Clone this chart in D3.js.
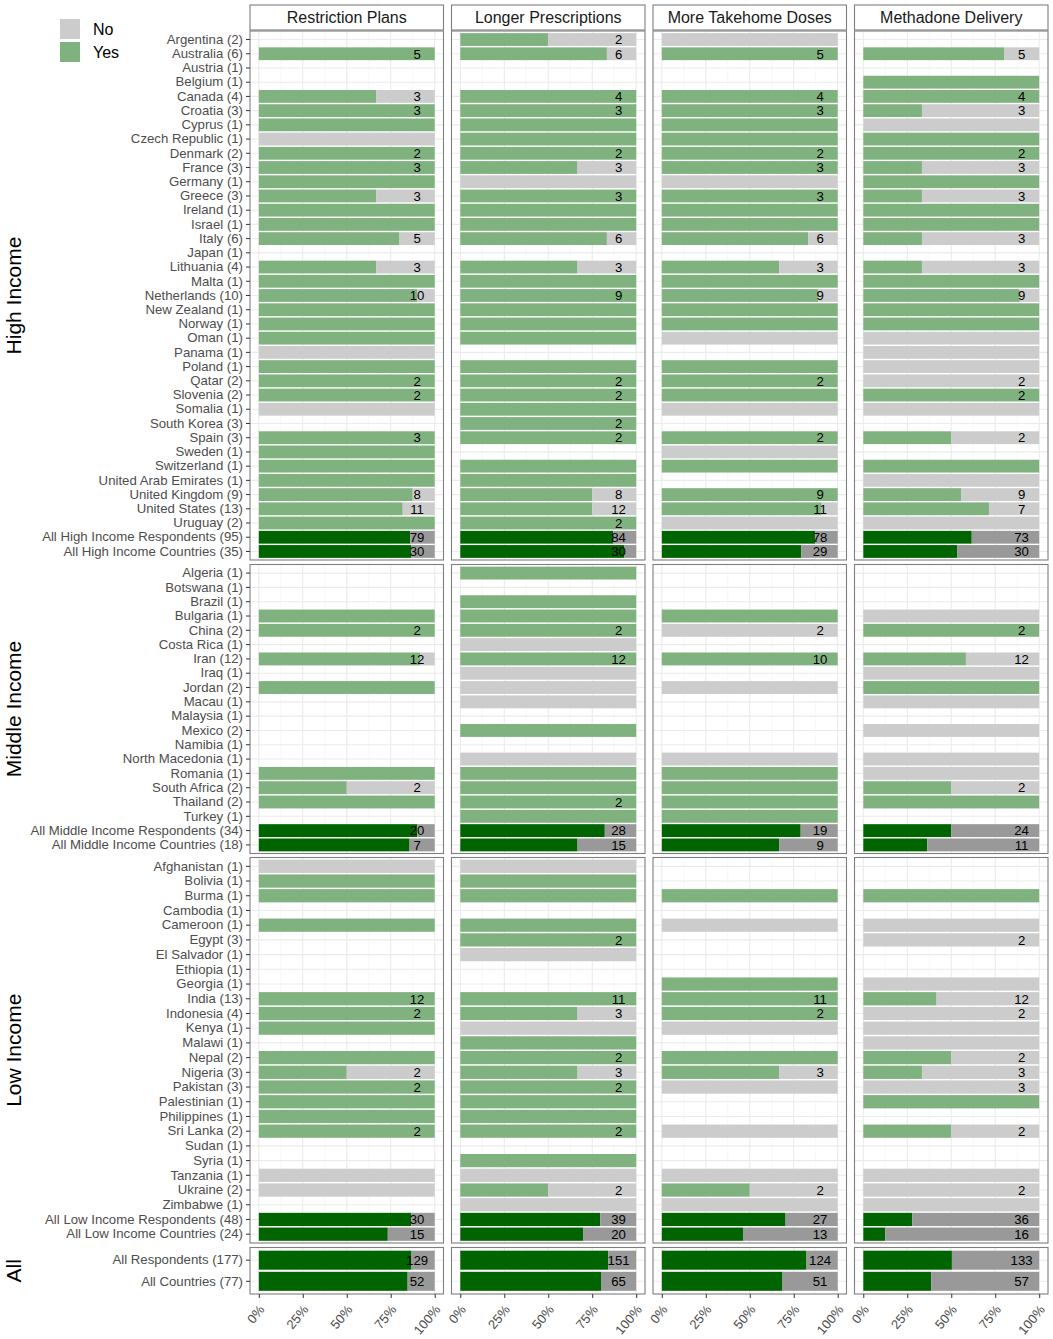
<!DOCTYPE html>
<html>
<head>
<meta charset="utf-8">
<title>Methadone service changes by country income group</title>
<style>
body { margin: 0; background: #fff; }
svg { display: block; font-family: "Liberation Sans", Arial, sans-serif; }
</style>
</head>
<body>
<div id="chart"></div>
<script src="https://d3js.org/d3.v7.min.js"></script>
<script>
// facet columns and rows
const questions = ["Restriction Plans", "Longer Prescriptions", "More Takehome Doses", "Methadone Delivery"];
const groupNames = ["High Income", "Middle Income", "Low Income", "All"];

// each value is [yes, answered]; null means nobody answered
const highLabels = ["Argentina (2)", "Australia (6)", "Austria (1)", "Belgium (1)", "Canada (4)", "Croatia (3)",
  "Cyprus (1)", "Czech Republic (1)", "Denmark (2)", "France (3)", "Germany (1)", "Greece (3)", "Ireland (1)",
  "Israel (1)", "Italy (6)", "Japan (1)", "Lithuania (4)", "Malta (1)", "Netherlands (10)", "New Zealand (1)",
  "Norway (1)", "Oman (1)", "Panama (1)", "Poland (1)", "Qatar (2)", "Slovenia (2)", "Somalia (1)",
  "South Korea (3)", "Spain (3)", "Sweden (1)", "Switzerland (1)", "United Arab Emirates (1)",
  "United Kingdom (9)", "United States (13)", "Uruguay (2)", "All High Income Respondents (95)",
  "All High Income Countries (35)"];
const highRP = [null, [5,5], null, null, [2,3], [3,3], [1,1], [0,1], [2,2], [3,3], [1,1], [2,3], [1,1], [1,1],
  [4,5], null, [2,3], [1,1], [9,10], [1,1], [1,1], [1,1], [0,1], [1,1], [2,2], [2,2], [0,1], null, [3,3],
  [1,1], [1,1], [1,1], [7,8], [9,11], [1,1], [68,79], [26,30]];
const highLP = [[1,2], [5,6], null, null, [4,4], [3,3], [1,1], [1,1], [2,2], [2,3], [0,1], [3,3], [1,1], [1,1],
  [5,6], null, [2,3], [1,1], [9,9], [1,1], [1,1], [1,1], null, [1,1], [2,2], [2,2], [1,1], [2,2], [2,2],
  null, [1,1], [1,1], [6,8], [9,12], [2,2], [73,84], [28,30]];
const highTD = [[0,1], [5,5], null, null, [4,4], [3,3], [1,1], [1,1], [2,2], [3,3], [0,1], [3,3], [1,1], [1,1],
  [5,6], null, [2,3], [1,1], [8,9], [1,1], [1,1], [0,1], null, [1,1], [2,2], [1,1], [0,1], null, [2,2],
  [0,1], [1,1], null, [9,9], [10,11], [0,1], [68,78], [23,29]];
const highMD = [null, [4,5], null, [1,1], [4,4], [1,3], [0,1], [1,1], [2,2], [1,3], [1,1], [1,3], [1,1], [1,1],
  [1,3], null, [1,3], [1,1], [8,9], [1,1], [1,1], [0,1], [0,1], [0,1], [0,2], [2,2], [0,1], null, [1,2],
  null, [1,1], [0,1], [5,9], [5,7], [0,1], [45,73], [16,30]];

const midLabels = ["Algeria (1)", "Botswana (1)", "Brazil (1)", "Bulgaria (1)", "China (2)", "Costa Rica (1)",
  "Iran (12)", "Iraq (1)", "Jordan (2)", "Macau (1)", "Malaysia (1)", "Mexico (2)", "Namibia (1)",
  "North Macedonia (1)", "Romania (1)", "South Africa (2)", "Thailand (2)", "Turkey (1)",
  "All Middle Income Respondents (34)", "All Middle Income Countries (18)"];
const midRP = [null, null, null, [1,1], [2,2], null, [11,12], null, [1,1], null, null, null, null, null,
  [1,1], [1,2], [1,1], null, [18,20], [6,7]];
const midLP = [[1,1], null, [1,1], [1,1], [2,2], [0,1], [12,12], [0,1], [0,1], [0,1], null, [1,1], null, [0,1],
  [1,1], [1,1], [2,2], [1,1], [23,28], [10,15]];
const midTD = [null, null, null, [1,1], [0,2], null, [10,10], null, [0,1], null, null, null, null, [0,1],
  [1,1], [1,1], [1,1], [1,1], [15,19], [6,9]];
const midMD = [null, null, null, [0,1], [2,2], null, [7,12], [0,1], [1,1], [0,1], null, [0,1], null, [0,1],
  [0,1], [1,2], [1,1], null, [12,24], [4,11]];

const lowLabels = ["Afghanistan (1)", "Bolivia (1)", "Burma (1)", "Cambodia (1)", "Cameroon (1)", "Egypt (3)",
  "El Salvador (1)", "Ethiopia (1)", "Georgia (1)", "India (13)", "Indonesia (4)", "Kenya (1)", "Malawi (1)",
  "Nepal (2)", "Nigeria (3)", "Pakistan (3)", "Palestinian (1)", "Philippines (1)", "Sri Lanka (2)",
  "Sudan (1)", "Syria (1)", "Tanzania (1)", "Ukraine (2)", "Zimbabwe (1)",
  "All Low Income Respondents (48)", "All Low Income Countries (24)"];
const lowRP = [[0,1], [1,1], [1,1], null, [1,1], null, null, null, null, [12,12], [2,2], [1,1], null, [1,1],
  [1,2], [2,2], [1,1], [1,1], [2,2], null, null, [0,1], [0,1], null, [26,30], [11,15]];
const lowLP = [[0,1], [1,1], [1,1], null, [1,1], [2,2], [0,1], null, null, [11,11], [2,3], [0,1], [1,1], [2,2],
  [2,3], [2,2], [1,1], [1,1], [2,2], null, [1,1], [0,1], [1,2], [0,1], [31,39], [14,20]];
const lowTD = [null, null, [1,1], null, [0,1], null, null, null, [1,1], [11,11], [2,2], [0,1], null, [1,1],
  [2,3], [0,1], null, null, [0,1], null, null, [0,1], [1,2], [0,1], [19,27], [6,13]];
const lowMD = [null, null, [1,1], null, [0,1], [0,2], null, null, [0,1], [5,12], [0,2], [0,1], [0,1], [1,2],
  [1,3], [0,3], [1,1], null, [1,2], null, null, [0,1], [0,2], [0,1], [10,36], [2,16]];

const allLabels = ["All Respondents (177)", "All Countries (77)"];
const allRP = [[112,129], [44,52]];
const allLP = [[127,151], [52,65]];
const allTD = [[102,124], [35,51]];
const allMD = [[67,133], [22,57]];

const xTicks = [0, 0.25, 0.5, 0.75, 1];
const legendKeys = ["No", "Yes"];

const groups = [
  {labels: highLabels, cols: [highRP, highLP, highTD, highMD]},
  {labels: midLabels, cols: [midRP, midLP, midTD, midMD]},
  {labels: lowLabels, cols: [lowRP, lowLP, lowTD, lowMD]},
  {labels: allLabels, cols: [allRP, allLP, allTD, allMD]}
];

// colours
const yesLight = "#7fb27f", noLight = "#cccccc";
const yesDark = "#006400", noDark = "#999999";
const border = "#7f7f7f";

// layout
const width = 1053, height = 1339;
const colX = [250, 451.5, 653, 854.5], colW = 193.5;
const rowBox = [[31, 560], [564.5, 853.5], [857.5, 1243], [1247.5, 1294]];
const stripTop = 5, stripH = 25;

const svg = d3.select("#chart").append("svg")
  .attr("width", width)
  .attr("height", height);

const xs = colX.map(x0 => d3.scaleLinear().domain([-0.05, 1.05]).range([x0, x0 + colW]));
const minor = d3.range(0.125, 1, 0.25);

groups.forEach((grp, gi) => {
  const y = d3.scaleBand()
    .domain(grp.labels)
    .range(rowBox[gi])
    .paddingInner(0.1)
    .paddingOuter(0.15);
  const bw = y.bandwidth();

  grp.cols.forEach((vals, ci) => {
    const x = xs[ci];
    const g = svg.append("g");

    // grid
    g.selectAll(".minor").data(minor).enter().append("line")
      .attr("x1", d => x(d)).attr("x2", d => x(d))
      .attr("y1", rowBox[gi][0]).attr("y2", rowBox[gi][1])
      .attr("stroke", "#f4f4f4").attr("stroke-width", 0.6);
    g.selectAll(".major").data(xTicks).enter().append("line")
      .attr("x1", d => x(d)).attr("x2", d => x(d))
      .attr("y1", rowBox[gi][0]).attr("y2", rowBox[gi][1])
      .attr("stroke", "#ebebeb").attr("stroke-width", 1.1);
    g.selectAll(".hgrid").data(grp.labels).enter().append("line")
      .attr("x1", colX[ci]).attr("x2", colX[ci] + colW)
      .attr("y1", d => y(d) + bw / 2).attr("y2", d => y(d) + bw / 2)
      .attr("stroke", "#ebebeb").attr("stroke-width", 1.1);

    const rows = grp.labels.map((lab, i) => ({lab, v: vals[i], summary: lab.startsWith("All")}))
      .filter(d => d.v !== null);

    // yes part
    g.selectAll(".yes").data(rows).enter().append("rect")
      .attr("x", x(0))
      .attr("y", d => y(d.lab))
      .attr("width", d => x(d.v[0] / d.v[1]) - x(0))
      .attr("height", bw)
      .attr("fill", d => d.summary ? yesDark : yesLight);
    // no part
    g.selectAll(".no").data(rows).enter().append("rect")
      .attr("x", d => x(d.v[0] / d.v[1]))
      .attr("y", d => y(d.lab))
      .attr("width", d => x(1) - x(d.v[0] / d.v[1]))
      .attr("height", bw)
      .attr("fill", d => d.summary ? noDark : noLight);

    // number answered
    g.selectAll(".n").data(rows.filter(d => d.v[1] > 1)).enter().append("text")
      .attr("x", x(0.9))
      .attr("y", d => y(d.lab) + bw / 2)
      .attr("dy", "0.36em")
      .attr("text-anchor", "middle")
      .attr("font-size", "13.2px")
      .attr("fill", "#000")
      .text(d => d.v[1]);

    g.append("rect")
      .attr("x", colX[ci]).attr("y", rowBox[gi][0])
      .attr("width", colW).attr("height", rowBox[gi][1] - rowBox[gi][0])
      .attr("fill", "none").attr("stroke", border).attr("stroke-width", 1.1);
  });

  // country labels
  const ax = svg.append("g")
    .attr("transform", `translate(${colX[0]},0)`)
    .call(d3.axisLeft(y).tickSize(4).tickPadding(3));
  ax.select(".domain").remove();
  ax.selectAll(".tick line").attr("stroke", "#333");
  ax.selectAll("text").attr("fill", "#4d4d4d").attr("font-size", "13.2px")
    .attr("font-family", "Liberation Sans, Arial, sans-serif");

  // group label
  const cy = (rowBox[gi][0] + rowBox[gi][1]) / 2;
  svg.append("text")
    .attr("transform", `translate(13,${cy}) rotate(-90)`)
    .attr("text-anchor", "middle")
    .attr("dy", "0.36em")
    .attr("font-size", "21px")
    .attr("fill", "#000")
    .text(groupNames[gi]);
});

// strips
questions.forEach((q, ci) => {
  svg.append("rect")
    .attr("x", colX[ci]).attr("y", stripTop)
    .attr("width", colW).attr("height", stripH)
    .attr("fill", "#fff").attr("stroke", border).attr("stroke-width", 1.1);
  svg.append("text")
    .attr("x", colX[ci] + colW / 2).attr("y", stripTop + stripH / 2)
    .attr("dy", "0.36em")
    .attr("text-anchor", "middle")
    .attr("font-size", "16px")
    .attr("fill", "#1a1a1a")
    .text(q);

  // bottom axis
  const bx = svg.append("g")
    .attr("transform", `translate(0,${rowBox[3][1]})`)
    .call(d3.axisBottom(xs[ci]).tickValues(xTicks).tickFormat(d3.format(".0%")).tickSize(4));
  bx.select(".domain").remove();
  bx.selectAll(".tick line").attr("stroke", "#333");
  bx.selectAll("text")
    .attr("fill", "#4d4d4d")
    .attr("font-size", "13px")
    .attr("font-family", "Liberation Sans, Arial, sans-serif")
    .attr("text-anchor", "end")
    .attr("x", 0).attr("y", 0).attr("dy", 0)
    .attr("transform", "translate(6,16) rotate(-50)");
});

// legend
const leg = svg.append("g").attr("transform", "translate(59,18)");
legendKeys.forEach((k, i) => {
  leg.append("rect")
    .attr("x", 1).attr("y", i * 23 + 1)
    .attr("width", 20).attr("height", 20)
    .attr("fill", k === "Yes" ? yesLight : noLight);
  leg.append("text")
    .attr("x", 34).attr("y", i * 23 + 11)
    .attr("dy", "0.36em")
    .attr("font-size", "16px")
    .attr("fill", "#000")
    .text(k);
});
</script>
</body>
</html>
